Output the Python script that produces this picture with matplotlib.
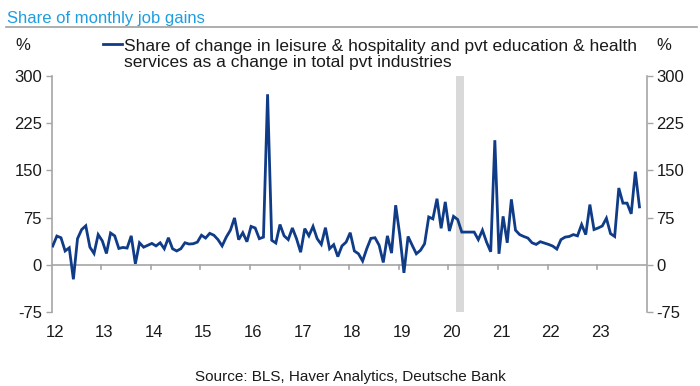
import numpy as np
import matplotlib
matplotlib.use("Agg")
import matplotlib.pyplot as plt
import matplotlib.transforms as mtransforms

# Monthly values from Jan 2012 (index 0) to Nov 2023 (index 142); None = not shown
share = [
    29.8, 45.7, 43, 22, 27, -23, 41.5, 56, 62, 28, 18, 48,
    38, 18, 50.5, 46, 26, 27.6, 26.6, 46, 1.6, 35, 28, 31,
    34, 30, 35, 25.5, 43, 25.5, 22, 25.5, 35, 33, 33.5, 36,
    47, 42.5, 50, 47, 40, 30, 44, 55, 74.5, 40, 51, 36.7,
    61, 58.5, 41.5, 44, 271, 39, 34.6, 64, 46, 40, 58.5, 41.5,
    20, 57.5, 46, 61, 41.5, 32.4, 59, 25.5, 32, 13, 30, 36,
    51, 22, 17.5, 6, 25.5, 42, 43, 31, 3.7, 46, 18.6, 94.7,
    47, -12.8, 45, 31, 17.5, 23, 33.5, 76, 73, 105, 58, 100,
    53.7, 77, 72, 52, None, None, 52, 40, 55, 36, 20.7, 198,
    17.5, 77, 35, 104, 55, 48, 45, 42.5, 35, 32.4, 36.7, 34.6,
    32.4, 29.8, 25, 40, 44, 45, 48, 46, 64, 48, 95.7, 56,
    58.5, 61.7, 74, 49.5, 45, 122, 98, 98, 81, 148, 92,
]
start_year = 2012
year_labels = ["12", "13", "14", "15", "16", "17", "18", "19", "20", "21", "22", "23"]
y_ticks = [-75, 0, 75, 150, 225, 300]
recession = (2020.15, 2020.32)

title = "Share of monthly job gains"
legend_text = ("Share of change in leisure & hospitality and pvt education & health\n"
               "services as a change in total pvt industries")
source = "Source: BLS, Haver Analytics, Deutsche Bank"

plt.rcParams['font.family'] = ['Liberation Sans', 'DejaVu Sans']

fig = plt.figure(figsize=(7.0, 3.86), dpi=100)
ax = fig.add_axes([0.0739, 0.1917, 0.85, 0.6114])

x = np.array([start_year + i / 12 + 0.02 for i in range(len(share))])
y = np.array([np.nan if v is None else v for v in share], dtype=float)
mask = ~np.isnan(y)

line_color = "#0f3b87"
grey = "#a6a6a6"
txt = "#1a1a1a"

ax.axvspan(recession[0], recession[1], color="#d9d9d9", lw=0, zorder=1)
ax.axhline(0, color=grey, lw=1.2, zorder=2)
ax.plot(x[mask], y[mask], color=line_color, lw=2.0, zorder=3, solid_joinstyle='miter')

ax.set_xlim(start_year, start_year + 12)
ax.set_ylim(-75, 300)

for s in ["top", "bottom"]:
    ax.spines[s].set_visible(False)
for s in ["left", "right"]:
    ax.spines[s].set_color(grey)
    ax.spines[s].set_linewidth(1.2)

ax.set_yticks(y_ticks)
ax.set_yticklabels([str(v) for v in y_ticks])
ax.tick_params(axis='y', which='both', left=True, right=True, labelleft=True, labelright=True,
               direction='out', length=4, width=1, color=grey, labelsize=12,
               labelcolor=txt, pad=3)

years = [start_year + k for k in range(len(year_labels))]
ax.set_xticks([])
# tick marks at zero line
for yr in years[1:]:
    ax.plot([yr, yr], [0, -7], color=grey, lw=1.2, zorder=2, clip_on=False)

trans = mtransforms.blended_transform_factory(ax.transData, ax.transAxes)
for yr, lab in zip(years, year_labels):
    ax.text(yr + 0.06, -0.085, lab, transform=trans, ha='center', va='center',
            fontsize=12, color=txt)

# Title and rule
fig.text(0.01, 0.953, title, ha='left', va='center', fontsize=12, color="#1e9ee0")
fig.add_artist(plt.Line2D([0.008, 0.995], [0.929, 0.929], transform=fig.transFigure,
                          color="#a0a0a0", lw=1.2))

# % labels
fig.text(0.032, 0.883, "%", ha='center', va='center', fontsize=12, color=txt)
fig.text(0.948, 0.883, "%", ha='center', va='center', fontsize=12, color=txt)

# Legend
fig.add_artist(plt.Line2D([0.147, 0.175], [0.885, 0.885], transform=fig.transFigure,
                          color=line_color, lw=2.0))
fig.text(0.177, 0.859, legend_text, ha='left', va='center', fontsize=12.5,
         color=txt, linespacing=1.1)

fig.text(0.5, 0.023, source, ha='center', va='center', fontsize=11, color=txt)

fig.savefig("out.png", dpi=100)
